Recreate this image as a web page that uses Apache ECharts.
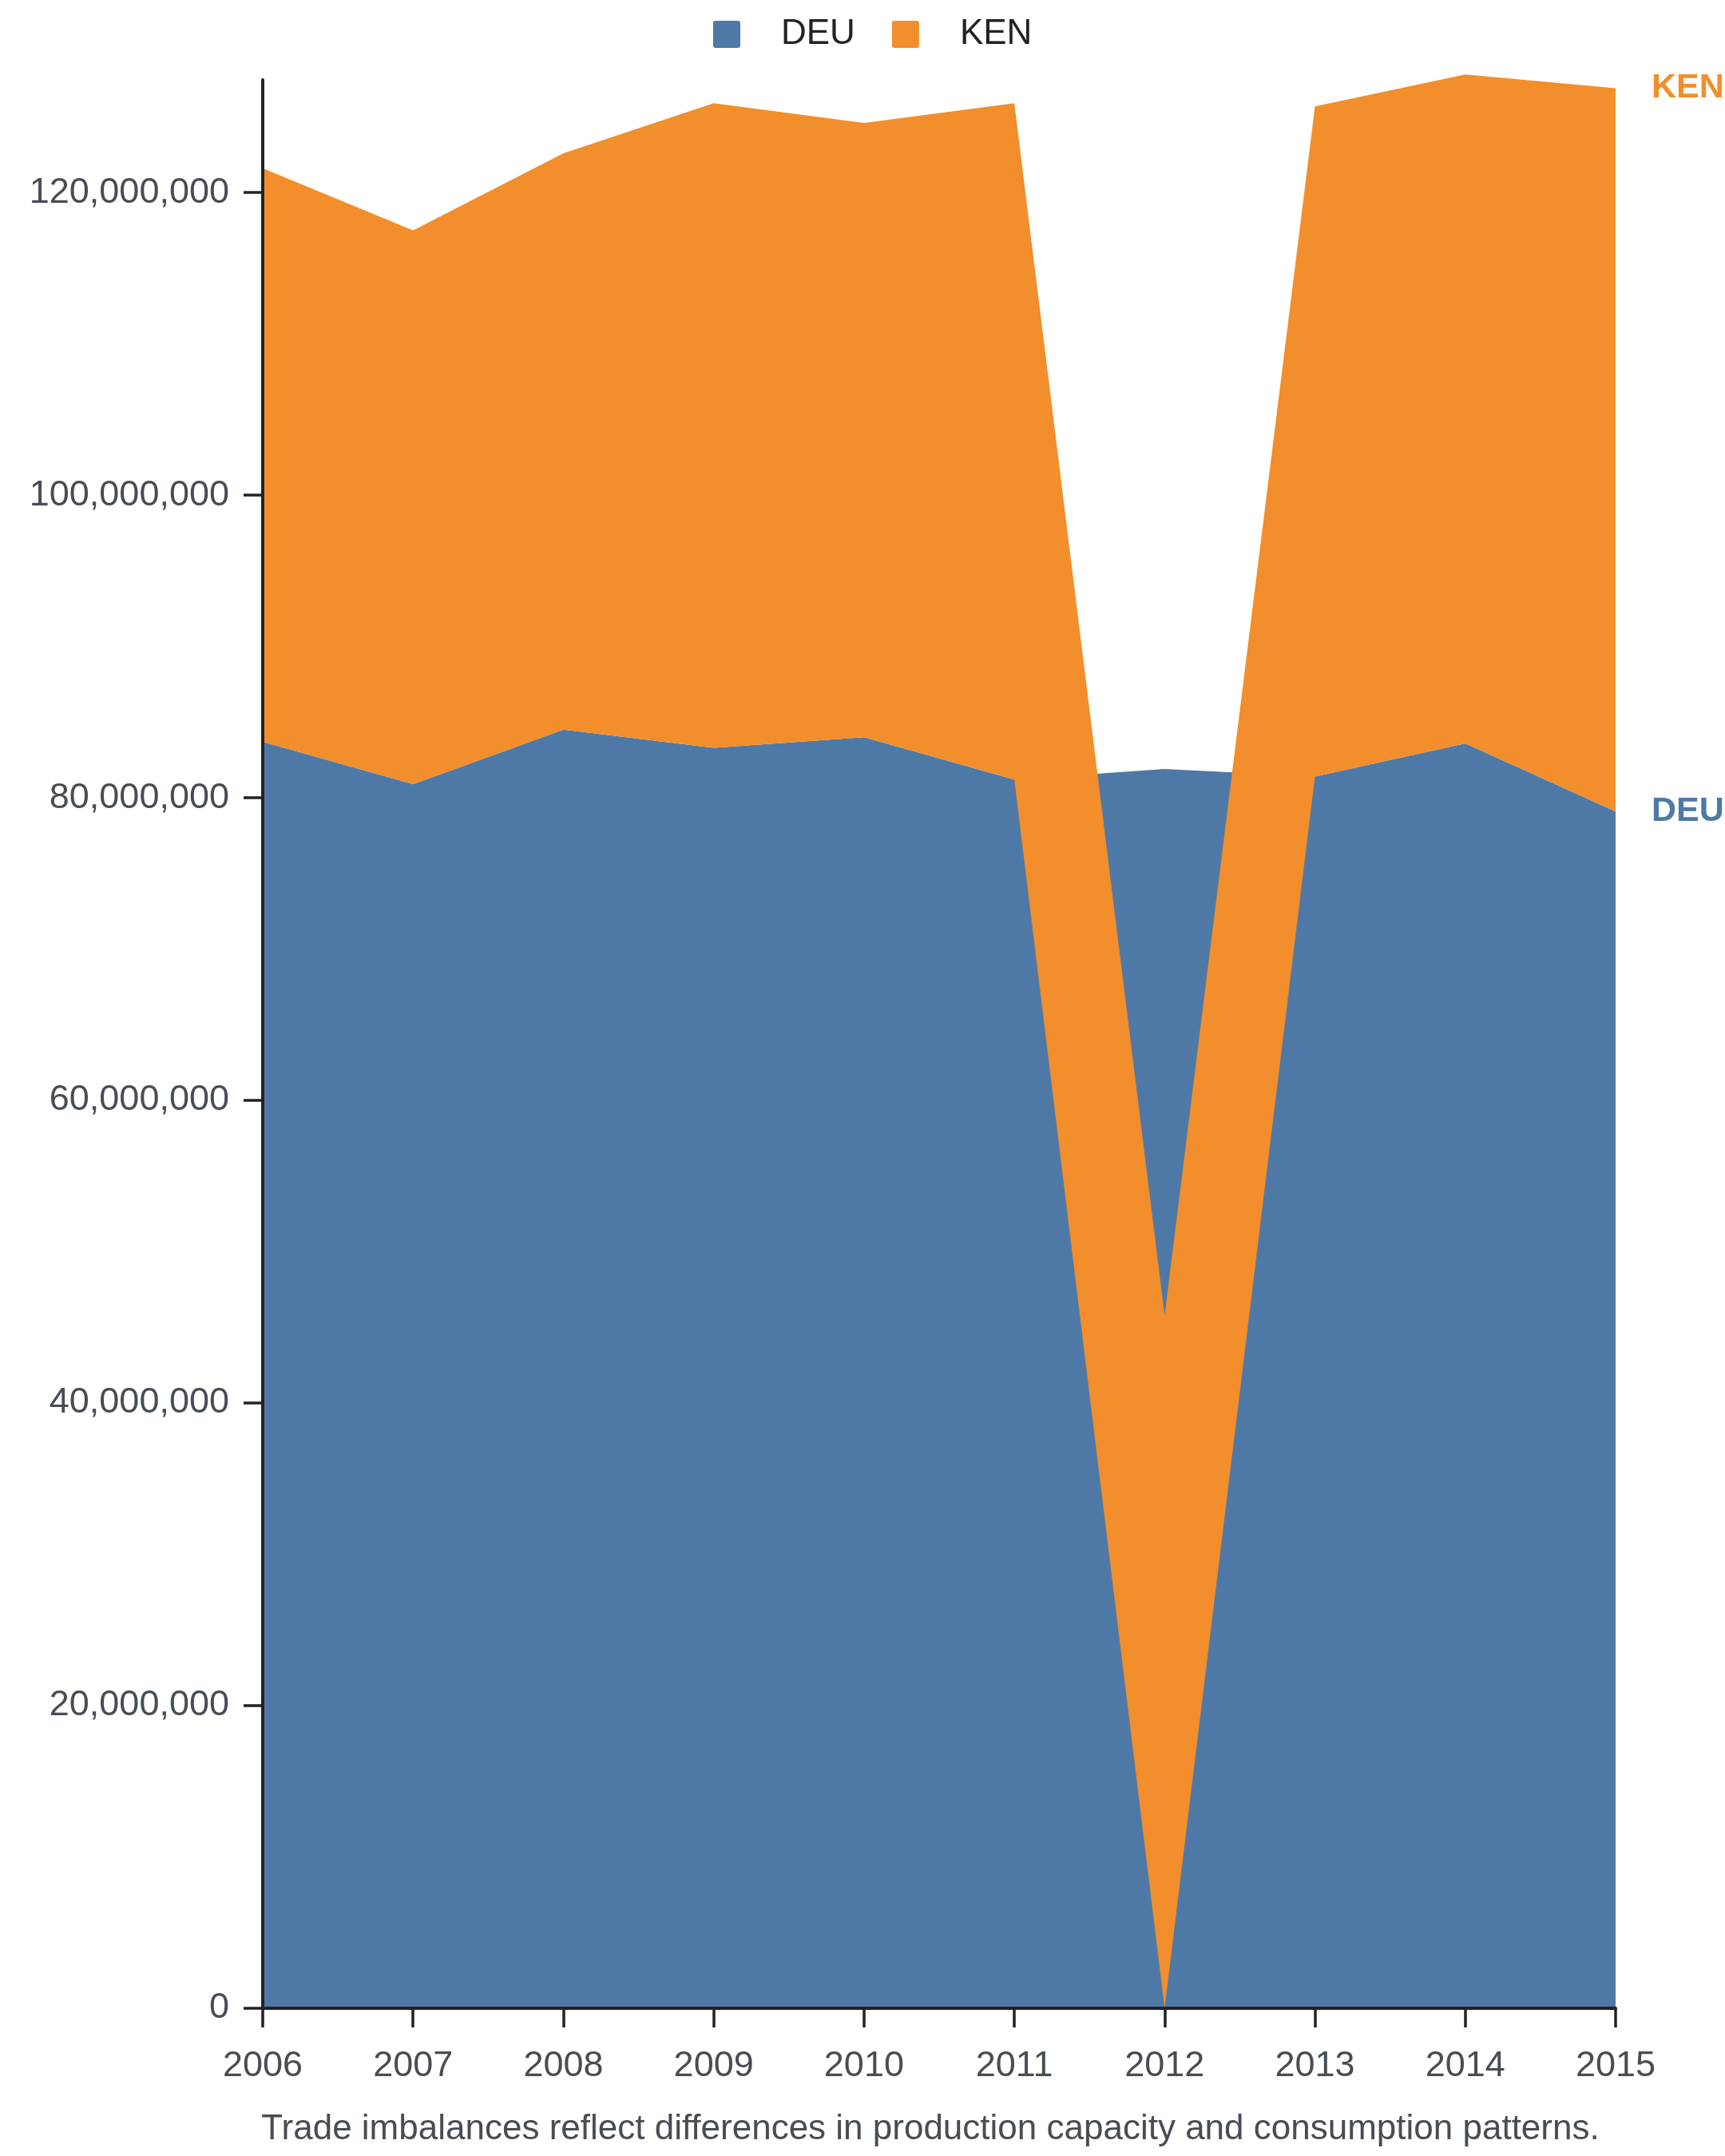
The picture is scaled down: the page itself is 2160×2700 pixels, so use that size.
<!DOCTYPE html>
<html>
<head>
<meta charset="utf-8">
<script src="https://cdn.jsdelivr.net/npm/echarts@6/dist/echarts.min.js"></script>
<style>
  html, body { margin: 0; padding: 0; background: #ffffff; }
  #chart { width: 2160px; height: 2700px; }
</style>
</head>
<body>
<div id="chart"></div>
<script>
// ---- data ----
const years = ['2006','2007','2008','2009','2010','2011','2012','2013','2014','2015'];
// DEU as drawn by its own area
const deu = [83700000, 80900000, 84500000, 83300000, 84000000, 81200000, 81900000, 81400000, 83600000, 79100000];
// DEU contribution used underneath KEN in the stack (missing in 2012)
const deuInStack = [83700000, 80900000, 84500000, 83300000, 84000000, 81200000, 0, 81400000, 83600000, 79100000];
const ken = [37900000, 36600000, 38100000, 42600000, 40600000, 44700000, 45800000, 44300000, 44200000, 47800000];
const yTicks = [0, 20000000, 40000000, 60000000, 80000000, 100000000, 120000000];
const subtitle = 'Trade imbalances reflect differences in production capacity and consumption patterns.';

const BLUE = '#4e79a7', ORANGE = '#f28e2b';
const FONT = '"Liberation Sans", Arial, Helvetica, sans-serif';
const ICON = 'path://M3,0 L31,0 Q34,0 34,3 L34,31 Q34,34 31,34 L3,34 Q0,34 0,31 L0,3 Q0,0 3,0 Z';

const chart = echarts.init(document.getElementById('chart'), null, { renderer: 'canvas' });
chart.setOption({
  animation: false,
  backgroundColor: '#ffffff',
  textStyle: { fontFamily: FONT },
  legend: {
    data: ['DEU', 'KEN'],
    top: 16,
    left: 888,
    itemWidth: 34,
    itemHeight: 34,
    itemGap: 46,
    icon: ICON,
    textStyle: { fontSize: 44, color: '#222222', fontFamily: FONT, padding: [0, 0, 0, 46] }
  },
  grid: { left: 329, right: 137, top: 100, bottom: 185, containLabel: false },
  xAxis: {
    type: 'category',
    data: years,
    boundaryGap: false,
    z: 10,
    axisLine: { lineStyle: { color: '#222222', width: 4 } },
    axisTick: { length: 24, lineStyle: { color: '#222222', width: 3.5 }, alignWithLabel: true },
    axisLabel: { fontSize: 45, color: '#474d55', margin: 50, fontFamily: FONT },
    splitLine: { show: false }
  },
  yAxis: {
    type: 'value',
    min: 0,
    max: 127450000,
    z: 10,
    axisLine: { show: true, lineStyle: { color: '#222222', width: 4 } },
    axisTick: { show: true, length: 24, lineStyle: { color: '#222222', width: 3.5 }, customValues: yTicks },
    axisLabel: {
      fontSize: 45, color: '#474d55', margin: 42, fontFamily: FONT,
      customValues: yTicks,
      formatter: v => Number(v).toLocaleString('en-US')
    },
    splitLine: { show: false }
  },
  graphic: [{
    type: 'text',
    x: 1165,
    y: 2645,
    style: {
      text: subtitle,
      textAlign: 'center',
      textVerticalAlign: 'top',
      fill: '#474d55',
      font: '44px ' + FONT
    }
  }],
  series: [
    {
      name: 'DEU',
      type: 'line',
      data: deu,
      color: BLUE,
      symbol: 'none',
      clip: false,
      lineStyle: { width: 0, color: BLUE },
      areaStyle: { color: BLUE, opacity: 1 },
      endLabel: {
        show: true, formatter: '{a}', color: BLUE, fontSize: 43, fontWeight: 'bold',
        distance: 45, fontFamily: FONT
      },
      z: 2
    },
    {
      name: 'DEU stack base',
      type: 'line',
      stack: 'total',
      data: deuInStack,
      symbol: 'none',
      silent: true,
      clip: false,
      lineStyle: { width: 0, opacity: 0 },
      z: 3
    },
    {
      name: 'KEN',
      type: 'line',
      stack: 'total',
      data: ken,
      color: ORANGE,
      symbol: 'none',
      clip: false,
      lineStyle: { width: 0, color: ORANGE },
      areaStyle: { color: ORANGE, opacity: 1 },
      endLabel: {
        show: true, formatter: '{a}', color: ORANGE, fontSize: 43, fontWeight: 'bold',
        distance: 45, fontFamily: FONT
      },
      z: 4
    }
  ]
});
</script>
</body>
</html>
